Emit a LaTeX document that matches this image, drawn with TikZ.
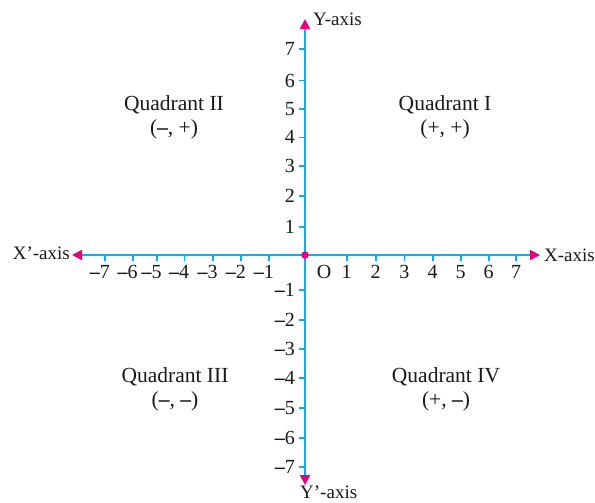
\documentclass[tikz,border=0pt]{standalone}
\usepackage{fontspec}
\setmainfont{Liberation Serif}
\usetikzlibrary{arrows.meta}
\definecolor{axiscol}{RGB}{20,172,232}
\definecolor{tipcol}{RGB}{230,0,126}
\newcommand{\negsign}{{\bfseries –}}
\begin{document}
\begin{tikzpicture}[x=1pt,y=-1pt,
  axisline/.style={draw=axiscol, line width=1.8pt},
  tickline/.style={draw=axiscol, line width=1.6pt},
  lbl/.style={font=\fontsize{20}{24}\selectfont, inner sep=0pt, text=black!90},
  axlbl/.style={font=\fontsize{19}{23}\selectfont, inner sep=0pt, text=black!90},
  quad/.style={font=\fontsize{21.5}{24}\selectfont, inner sep=0pt, text=black!90, align=center}]
\useasboundingbox (0,0) rectangle (595,503);
\coordinate (O) at (305,255);
\coordinate (xl) at (72,255);
\coordinate (xr) at (540,255);
\coordinate (yt) at (305,19);
\coordinate (yb) at (305,485);
\draw[axisline, {Triangle[length=10pt,width=10pt,color=tipcol]}-{Triangle[length=10pt,width=10pt,color=tipcol]}] (xl) -- (xr);
\draw[axisline, {Triangle[length=10pt,width=10pt,color=tipcol]}-{Triangle[length=10pt,width=10pt,color=tipcol]}] (yt) -- (yb);
% x ticks
\foreach \x/\n in {346.7/1,375.7/2,404.3/3,432.7/4,460.7/5,488.7/6,516/7} {
  \draw[tickline] (\x,255) -- (\x,261);
  \node[lbl, anchor=north] (xp\n) at (\x,265) {\n};
}
\foreach \x/\n in {269/1,241/2,212.7/3,184.3/4,156.7/5,132.7/6,105/7} {
  \draw[tickline] (\x,255) -- (\x,261);
  \node[lbl, anchor=north east] (xm\n) at (\x+5,265) {\negsign\n};
}
% y ticks
\foreach \y/\n in {226.7/1,196/2,166/3,137.3/4,109/5,80.7/6,49.3/7} {
  \draw[tickline] (299,\y) -- (305,\y);
  \node[lbl, anchor=east] (yp\n) at (295,\y) {\n};
}
\foreach \y/\n in {290/1,320/2,349/3,378/4,408/5,438/6,467/7} {
  \draw[tickline] (299,\y) -- (305,\y);
  \node[lbl, anchor=east] (ym\n) at (295,\y) {\negsign\n};
}
\node[circle, fill=tipcol, minimum size=7.5pt, inner sep=0pt] (dot) at (O) {};
\node[lbl, anchor=north] (olbl) at (324,265) {O};
% axis labels
\node[axlbl, anchor=west] (xaxis) at (544,255) {X-axis};
\node[axlbl, anchor=east] (xpaxis) at (70,253) {X’-axis};
\node[axlbl, anchor=west] (yaxis) at (313,19) {Y-axis};
\node[axlbl, anchor=west] (ypaxis) at (300,492) {Y’-axis};
% quadrants
\node[quad] (q1) at (445,117) {Quadrant I\\(+, +)};
\node[quad] (q2) at (174,117) {Quadrant II\\(\negsign, +)};
\node[quad] (q3) at (175,389) {Quadrant III\\(\negsign, \negsign)};
\node[quad] (q4) at (446,389) {Quadrant IV\\(+, \negsign)};
\end{tikzpicture}
\end{document}
